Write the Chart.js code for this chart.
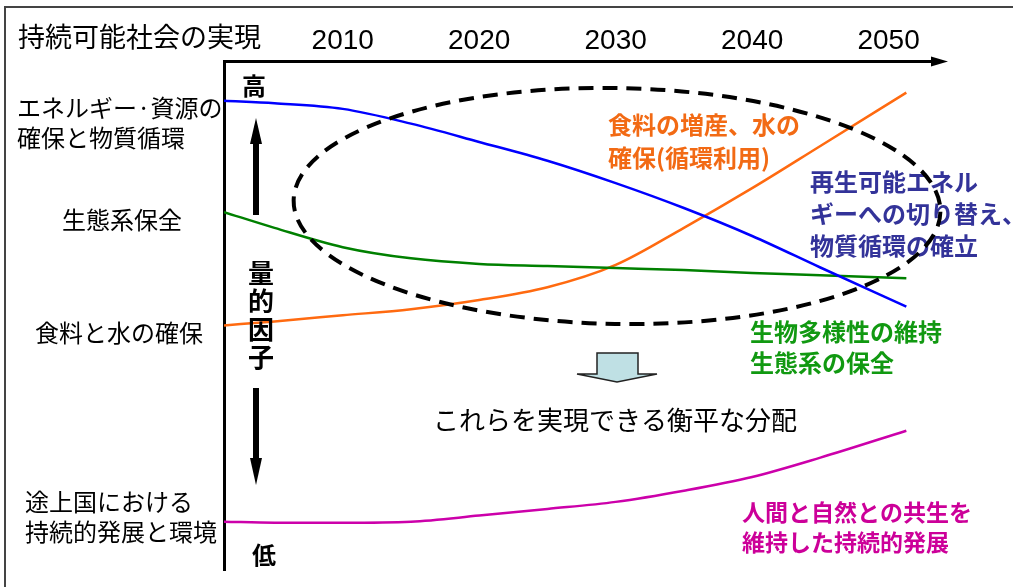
<!DOCTYPE html>
<html>
<head>
<meta charset="utf-8">
<script src="https://cdn.jsdelivr.net/npm/chart.js@4/dist/chart.umd.min.js"></script>
<style>
  body { margin: 0; background: #fff; }
  canvas { display: block; }
</style>
</head>
<body>
<canvas id="kyosei" width="1013" height="587"></canvas>
<script>
// 年（横軸）と各要素の量的な推移（0=低, 100=高）
const years = [2001.3, 2005, 2010, 2015, 2020, 2025, 2030, 2035, 2040, 2045, 2051.3];
const tickYears = [2010, 2020, 2030, 2040, 2050];
const energy = [92.3, 91.8, 90.7, 87.8, 84.2, 80.5, 76.1, 71.2, 65.7, 59.5, 51.8];
const ecosystem = [70.4, 67.3, 63.5, 61.3, 60.2, 59.8, 59.4, 59.0, 58.4, 58.0, 57.4];
const foodWater = [48.1, 48.9, 50.1, 51.3, 53.1, 55.6, 60.0, 67.3, 75.1, 83.4, 93.9];
const developing = [9.5, 9.3, 9.3, 9.5, 10.7, 12.0, 13.4, 15.6, 18.3, 22.1, 27.4];

// 点線の楕円（中心は年・量で指定）
const focus = { x: 2030.1, y: 71.6, rx: 23.7, ry: 23.2 };

const JP = '"Noto Sans CJK JP", sans-serif';

function series(values, color) {
  return {
    data: values.map((v, i) => ({ x: years[i], y: v })),
    borderColor: color,
    borderWidth: 2.5,
    pointRadius: 0,
    cubicInterpolationMode: "monotone",
    fill: false,
  };
}

function label(ctx, str, x, y, size, color, bold) {
  ctx.font = (bold ? "bold " : "") + size + "px " + JP;
  ctx.fillStyle = color;
  ctx.textAlign = "left";
  ctx.textBaseline = "middle";
  ctx.fillText(str, x, y);
}

const decorations = {
  id: "decorations",
  beforeDraw(chart) {
    const ctx = chart.ctx;
    ctx.save();
    ctx.fillStyle = "#fff";
    ctx.fillRect(0, 0, chart.width, chart.height);
    // 外枠
    ctx.strokeStyle = "#444";
    ctx.lineWidth = 2;
    ctx.beginPath();
    ctx.moveTo(5, chart.height);
    ctx.lineTo(5, 7);
    ctx.lineTo(chart.width, 7);
    ctx.stroke();
    ctx.restore();
  },
  afterDraw(chart) {
    const ctx = chart.ctx;
    const area = chart.chartArea;
    const xs = chart.scales.x;
    const ys = chart.scales.y;
    ctx.save();

    // 横軸の矢印
    ctx.fillStyle = "#000";
    ctx.beginPath();
    ctx.moveTo(area.right - 4, area.top - 5);
    ctx.lineTo(area.right + 13, area.top);
    ctx.lineTo(area.right - 4, area.top + 5);
    ctx.closePath();
    ctx.fill();

    // 縦の上下矢印
    ctx.fillRect(253, 143, 6, 72);
    ctx.beginPath();
    ctx.moveTo(250, 144);
    ctx.lineTo(256, 118);
    ctx.lineTo(262, 144);
    ctx.closePath();
    ctx.fill();
    ctx.fillRect(253, 388, 6, 71);
    ctx.beginPath();
    ctx.moveTo(250, 458);
    ctx.lineTo(256, 485);
    ctx.lineTo(262, 458);
    ctx.closePath();
    ctx.fill();

    // 見出しと左側の項目
    label(ctx, "持続可能社会の実現", 18, 37, 27, "#000", false);
    label(ctx, "エネルギー·資源の", 17, 108, 24, "#000", false);
    label(ctx, "確保と物質循環", 17, 138, 24, "#000", false);
    label(ctx, "生態系保全", 62, 220, 24, "#000", false);
    label(ctx, "食料と水の確保", 35, 333, 24, "#000", false);
    label(ctx, "途上国における", 25, 502, 24, "#000", false);
    label(ctx, "持続的発展と環境", 25, 532, 24, "#000", false);

    label(ctx, "高", 242, 86, 24, "#000", true);
    label(ctx, "低", 252, 555, 24, "#000", true);
    ["量", "的", "因", "子"].forEach((c, i) => label(ctx, c, 248, 273 + i * 28, 26, "#000", true));

    // 各曲線の説明
    label(ctx, "食料の増産、水の", 608, 125, 24, "#f26a14", true);
    label(ctx, "確保(循環利用)", 608, 158, 24, "#f26a14", true);
    label(ctx, "再生可能エネル", 810, 182, 24, "#333399", true);
    label(ctx, "ギーへの切り替え、", 810, 214, 24, "#333399", true);
    label(ctx, "物質循環の確立", 810, 246, 24, "#333399", true);
    label(ctx, "生物多様性の維持", 750, 332, 24, "#119911", true);
    label(ctx, "生態系の保全", 750, 363, 24, "#119911", true);
    label(ctx, "人間と自然との共生を", 742, 512, 23, "#cc0099", true);
    label(ctx, "維持した持続的発展", 742, 542, 23, "#cc0099", true);

    // 下向きの矢印と結論
    ctx.beginPath();
    ctx.moveTo(597, 353);
    ctx.lineTo(638, 353);
    ctx.lineTo(638, 374);
    ctx.lineTo(657, 374);
    ctx.lineTo(617, 382);
    ctx.lineTo(577, 374);
    ctx.lineTo(597, 374);
    ctx.closePath();
    ctx.fillStyle = "#bfe0e4";
    ctx.fill();
    ctx.strokeStyle = "#222";
    ctx.lineWidth = 1.5;
    ctx.stroke();
    label(ctx, "これらを実現できる衡平な分配", 433, 420, 26, "#000", false);

    // 点線の楕円
    const cx = xs.getPixelForValue(focus.x);
    const cy = ys.getPixelForValue(focus.y);
    const rx = xs.getPixelForValue(focus.x + focus.rx) - cx;
    const ry = cy - ys.getPixelForValue(focus.y + focus.ry);
    ctx.beginPath();
    ctx.ellipse(cx, cy, rx, ry, 0.018, 0, Math.PI * 2);
    ctx.setLineDash([15, 9]);
    ctx.lineWidth = 4;
    ctx.strokeStyle = "#000";
    ctx.stroke();
    ctx.restore();
  },
};

new Chart(document.getElementById("kyosei"), {
  type: "line",
  data: {
    datasets: [
      series(energy, "#0000ff"),
      series(ecosystem, "#008000"),
      series(foodWater, "#ff6a10"),
      series(developing, "#cc00aa"),
    ],
  },
  options: {
    responsive: false,
    devicePixelRatio: 1,
    animation: false,
    layout: { padding: { left: 224, right: 78, top: 20, bottom: 17 } },
    plugins: { legend: { display: false }, tooltip: { enabled: false } },
    scales: {
      x: {
        type: "linear",
        position: "top",
        min: 2001.3,
        max: 2053.4,
        afterBuildTicks: (scale) => {
          scale.ticks = tickYears.map((v) => ({ value: v }));
        },
        ticks: {
          color: "#000",
          padding: 4,
          font: { family: '"Liberation Sans", Arial, sans-serif', size: 28 },
          callback: (v) => String(v),
        },
        grid: { display: false, drawTicks: false },
        border: { color: "#000", width: 3 },
      },
      y: {
        min: 0,
        max: 100,
        ticks: { display: false },
        grid: { display: false, drawTicks: false },
        border: { color: "#000", width: 3 },
      },
    },
  },
  plugins: [decorations],
});
</script>
</body>
</html>
